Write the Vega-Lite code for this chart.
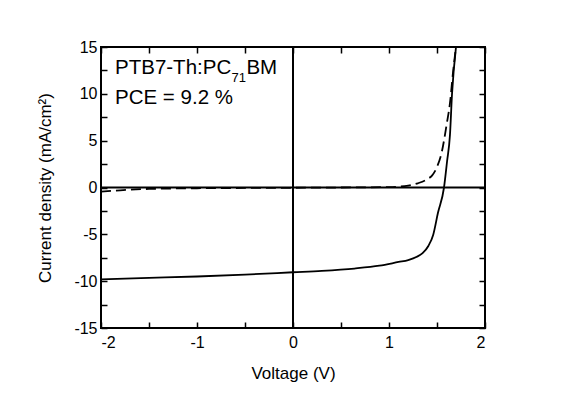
{
  "$schema": "https://vega.github.io/schema/vega-lite/v6.json",
  "width": 384,
  "height": 281,
  "autosize": {"type": "none"},
  "padding": {"left": 101, "top": 47, "right": 80, "bottom": 68},
  "background": "white",
  "config": {
    "view": {"stroke": "black", "strokeWidth": 2},
    "font": "Liberation Sans",
    "axis": {
      "domain": false,
      "grid": false,
      "tickColor": "black",
      "tickWidth": 1.5,
      "labelColor": "black",
      "labelFont": "Liberation Sans",
      "labelFontSize": 16,
      "titleFont": "Liberation Sans",
      "titleFontSize": 17,
      "titleFontWeight": "normal",
      "titleColor": "black"
    }
  },
  "datasets": {
    "light": [
      {"v": -2.0, "j": -9.8},
      {"v": -1.5, "j": -9.65},
      {"v": -1.0, "j": -9.5},
      {"v": -0.5, "j": -9.3},
      {"v": 0.0, "j": -9.05},
      {"v": 0.3, "j": -8.9},
      {"v": 0.64, "j": -8.65},
      {"v": 0.9, "j": -8.35},
      {"v": 1.1, "j": -7.95},
      {"v": 1.2, "j": -7.75},
      {"v": 1.29, "j": -7.4},
      {"v": 1.35, "j": -7.0},
      {"v": 1.41, "j": -6.24},
      {"v": 1.46, "j": -5.06},
      {"v": 1.51, "j": -2.7},
      {"v": 1.573, "j": 0.0},
      {"v": 1.605, "j": 2.8},
      {"v": 1.635, "j": 5.6},
      {"v": 1.656, "j": 9.9},
      {"v": 1.70, "j": 15.2}
    ],
    "dark": [
      {"v": -2.0, "j": -0.45},
      {"v": -1.8, "j": -0.3},
      {"v": -1.5, "j": -0.15},
      {"v": -1.0, "j": -0.08},
      {"v": 0.0, "j": -0.03},
      {"v": 0.5, "j": 0.0},
      {"v": 1.0, "j": 0.05},
      {"v": 1.2, "j": 0.2},
      {"v": 1.3, "j": 0.45},
      {"v": 1.4, "j": 0.9},
      {"v": 1.45, "j": 1.3},
      {"v": 1.5, "j": 2.2},
      {"v": 1.55, "j": 3.8},
      {"v": 1.6, "j": 6.7},
      {"v": 1.635, "j": 9.0},
      {"v": 1.667, "j": 12.3},
      {"v": 1.70, "j": 15.2}
    ]
  },
  "layer": [
    {
      "data": {"name": "light"},
      "mark": {"type": "line", "color": "black", "strokeWidth": 1.8, "clip": true, "interpolate": "monotone"},
      "encoding": {
        "x": {"field": "v", "type": "quantitative", "scale": {"domain": [-2, 2], "nice": false, "zero": false},
          "axis": {"orient": "bottom", "title": "Voltage (V)", "titleY": 50, "titleBaseline": "alphabetic",
            "values": [-2, -1.5, -1, -0.5, 0, 0.5, 1, 1.5, 2],
            "labelExpr": "datum.value % 1 === 0 ? toString(datum.value) : ''",
            "tickSize": -6, "labelPadding": 12,
            "encode": {"ticks": {"update": {"y2": {"signal": "datum.value % 1 === 0 ? -6 : -3"}}}}}},
        "y": {"field": "j", "type": "quantitative", "scale": {"domain": [-15, 15], "nice": false, "zero": false},
          "axis": {"orient": "left", "title": "Current density (mA/cm²)", "titleX": -51, "titleY": 140.5, "titleBaseline": "alphabetic",
            "values": [-15, -12.5, -10, -7.5, -5, -2.5, 0, 2.5, 5, 7.5, 10, 12.5, 15],
            "labelExpr": "datum.value % 5 === 0 ? toString(datum.value) : ''",
            "tickSize": -6, "labelPadding": 10,
            "encode": {"ticks": {"update": {"x2": {"signal": "datum.value % 5 === 0 ? 6 : 3"}}}}}}
      }
    },
    {
      "data": {"name": "dark"},
      "mark": {"type": "line", "color": "black", "strokeWidth": 1.8, "strokeDash": [10, 5], "clip": true, "interpolate": "monotone"},
      "encoding": {
        "x": {"field": "v", "type": "quantitative", "scale": {"domain": [-2, 2], "nice": false, "zero": false},
          "axis": {"orient": "top", "title": null, "labels": false,
            "values": [-2, -1.5, -1, -0.5, 0, 0.5, 1, 1.5, 2],
            "tickSize": -6,
            "encode": {"ticks": {"update": {"y2": {"signal": "datum.value % 1 === 0 ? 6 : 3"}}}}}},
        "y": {"field": "j", "type": "quantitative", "scale": {"domain": [-15, 15], "nice": false, "zero": false},
          "axis": {"orient": "right", "title": null, "labels": false,
            "values": [-15, -12.5, -10, -7.5, -5, -2.5, 0, 2.5, 5, 7.5, 10, 12.5, 15],
            "tickSize": -6,
            "encode": {"ticks": {"update": {"x2": {"signal": "datum.value % 5 === 0 ? -6 : -3"}}}}}}
      }
    },
    {
      "data": {"values": [{"v": 0}]},
      "mark": {"type": "rule", "color": "black", "strokeWidth": 2},
      "encoding": {"x": {"field": "v", "type": "quantitative", "scale": {"domain": [-2, 2], "nice": false, "zero": false}, "axis": null}}
    },
    {
      "data": {"values": [{"j": 0}]},
      "mark": {"type": "rule", "color": "black", "strokeWidth": 2},
      "encoding": {"y": {"field": "j", "type": "quantitative", "scale": {"domain": [-15, 15], "nice": false, "zero": false}, "axis": null}}
    },
    {
      "data": {"values": [
        {"v": -1.854, "j": 12.12, "t": "PTB7-Th:PC", "s": 20.5},
        {"v": -1.854, "j": 8.92, "t": "PCE = 9.2 %", "s": 20.5},
        {"v": -0.64, "j": 11.3, "t": "71", "s": 13},
        {"v": -0.485, "j": 12.12, "t": "BM", "s": 20.5}
      ]},
      "mark": {"type": "text", "align": "left", "baseline": "alphabetic", "color": "black", "font": "Liberation Sans"},
      "encoding": {
        "x": {"field": "v", "type": "quantitative", "scale": {"domain": [-2, 2], "nice": false, "zero": false}, "axis": null},
        "y": {"field": "j", "type": "quantitative", "scale": {"domain": [-15, 15], "nice": false, "zero": false}, "axis": null},
        "text": {"field": "t"},
        "size": {"field": "s", "type": "quantitative", "scale": null, "legend": null}
      }
    }
  ],
  "resolve": {"axis": {"x": "independent", "y": "independent"}}
}
